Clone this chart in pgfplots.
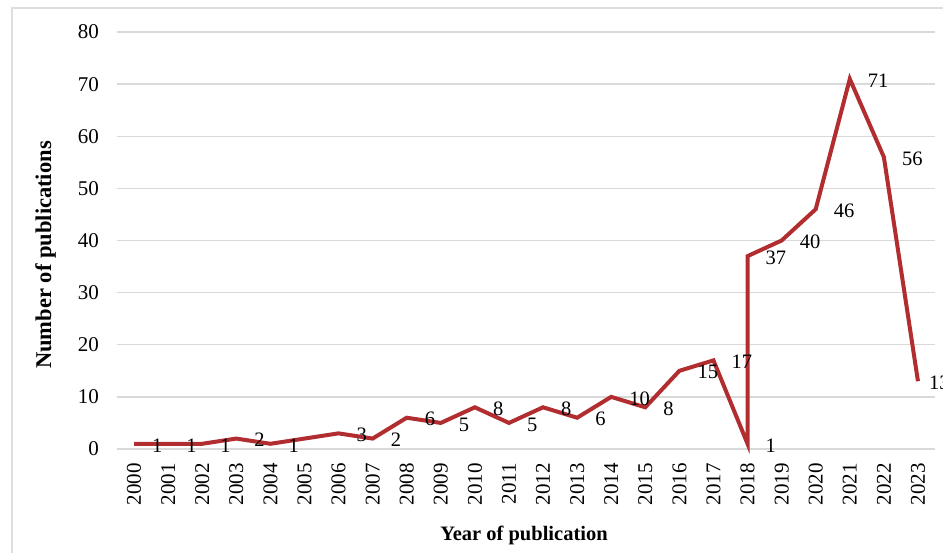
\documentclass[border=0pt]{standalone}
\usepackage{pgfplots}
\pgfplotsset{compat=1.18}
\usepackage{fontspec}
\setmainfont{Liberation Serif}
\definecolor{linered}{RGB}{178,45,48}
\definecolor{gridgray}{RGB}{217,217,217}
\definecolor{bordergray}{RGB}{222,222,222}
\begin{document}
\begin{tikzpicture}[x=1pt,y=1pt]
\useasboundingbox (0,0) rectangle (943,552);
\draw[bordergray, line width=1.2pt] (12,-20) rectangle (980,544);
\begin{axis}[
  at={(117pt,103pt)}, anchor=south west,
  scale only axis, width=818pt, height=417pt,
  xmin=1999.5, xmax=2023.5, ymin=0, ymax=80,
  axis line style={draw=none},
  major tick length=0pt,
  ymajorgrids, grid style={gridgray, line width=1.3pt},
  xtick={2000,2001,2002,2003,2004,2005,2006,2007,2008,2009,2010,2011,2012,2013,2014,2015,2016,2017,2018,2019,2020,2021,2022,2023},
  xticklabels={2000,2001,2002,2003,2004,2005,2006,2007,2008,2009,2010,2011,2012,2013,2014,2015,2016,2017,2018,2019,2020,2021,2022,2023},
  ytick={0,10,20,30,40,50,60,70,80},
  yticklabel style={/pgf/number format/assume math mode=true, font=\fontsize{21}{24}\selectfont, anchor=east, inner sep=0pt, xshift=-18pt},
  xticklabel style={font=\fontsize{21}{24}\selectfont, yshift=-14pt, rotate=90, anchor=east, inner sep=0pt},
  clip=false,
]
\addplot[linered, line width=4pt, line join=miter, mark=none] coordinates {
 (2000,1) (2001,1) (2002,1) (2003,2) (2004,1) (2005,2) (2006,3) (2007,2)
 (2008,6) (2009,5) (2010,8) (2011,5) (2012,8) (2013,6) (2014,10) (2015,8)
 (2016,15) (2017,17) (2018,1) (2018,37) (2019,40) (2020,46) (2021,71)
 (2022,56) (2023,13)
};
\addplot[draw=none, mark=none, point meta=explicit symbolic,
  nodes near coords, nodes near coords align={west},
  nodes near coords style={anchor=west, inner sep=0pt, xshift=18pt, yshift=-1.5pt, font=\fontsize{20.5}{24}\selectfont, text=black}]
 coordinates {
 (2000,1) [1] (2001,1) [1] (2002,1) [1] (2003,2) [2] (2004,1) [1]
 (2006,3) [3] (2007,2) [2] (2008,6) [6] (2009,5) [5] (2010,8) [8]
 (2011,5) [5] (2012,8) [8] (2013,6) [6] (2014,10) [10] (2015,8) [8]
 (2016,15) [15] (2017,17) [17] (2018,1) [1] (2018,37) [37] (2019,40) [40]
 (2020,46) [46] (2021,71) [71] (2022,56) [56]
};
\addplot[draw=none, mark=none, point meta=explicit symbolic,
  nodes near coords, nodes near coords align={west},
  nodes near coords style={anchor=west, inner sep=0pt, xshift=11pt, yshift=-2pt, font=\fontsize{20.5}{24}\selectfont, text=black}]
 coordinates {(2023,13) [13]};
\end{axis}
\node[font=\bfseries\fontsize{20.5}{24}\selectfont, anchor=center] at (524,17) {Year of publication};
\node[font=\bfseries\fontsize{22.5}{26}\selectfont, anchor=center, rotate=90] at (45.5,297) {Number of publications};
\end{tikzpicture}
\end{document}
